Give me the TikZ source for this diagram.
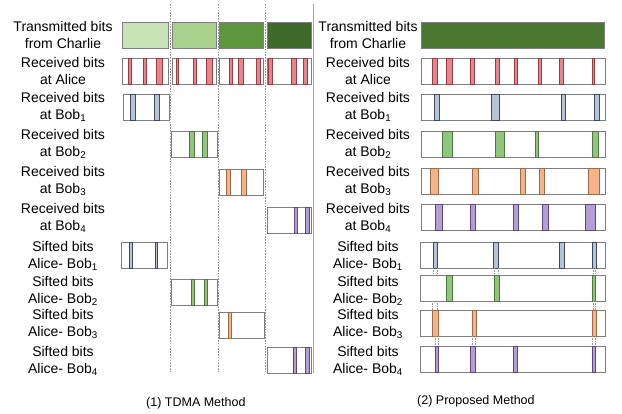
\documentclass[tikz,border=0pt]{standalone}
\usepackage{fontspec}
\setmainfont{Liberation Sans}

\definecolor{framegray}{HTML}{7F7F7F}
\definecolor{guidegray}{HTML}{9A9A9A}
\definecolor{sepgray}{HTML}{A6A6A6}
\definecolor{txA}{HTML}{C8E3B6}
\definecolor{txB}{HTML}{A9D18E}
\definecolor{txC}{HTML}{5E963E}
\definecolor{txD}{HTML}{3E6A2A}
\definecolor{txFull}{HTML}{4A7830}
\definecolor{bitred}{HTML}{E8848C}
\definecolor{bitredD}{HTML}{9A3C44}
\definecolor{bitblue}{HTML}{B8C3D8}
\definecolor{bitblueD}{HTML}{3E4A62}
\definecolor{bitgreen}{HTML}{93C47D}
\definecolor{bitgreenD}{HTML}{4C7A38}
\definecolor{bitorange}{HTML}{F5B38A}
\definecolor{bitorangeD}{HTML}{A06A44}
\definecolor{bitpurple}{HTML}{B49ED6}
\definecolor{bitpurpleD}{HTML}{5C4880}

% one row of bit slots: style, top y, list of x1/x2
\newcommand{\bitrow}[3]{%
  \foreach \xa/\xb in {#3} {\path[#1] (\xa,#2) rectangle (\xb,#2+26);}}
% pair of dashed links between two sifted rows: x1/x2 list, top y, bottom y
\newcommand{\linkpair}[3]{%
  \foreach \xa/\xb in {#1} {\draw[link] (\xa,#2) -- (\xa,#3); \draw[link] (\xb,#2) -- (\xb,#3);}}

\begin{document}
\begin{tikzpicture}[x=1pt,y=-1pt,
  lbl/.style={align=center,inner sep=0pt,font=\fontsize{14}{16.5}\selectfont},
  captxt/.style={inner sep=0pt,anchor=west,font=\fontsize{12.5}{15}\selectfont},
  frame/.style={draw=framegray,line width=0.9pt,fill=white},
  txbox/.style={draw=framegray,line width=0.9pt},
  redbit/.style={fill=bitred,draw=bitredD,line width=0.6pt},
  bluebit/.style={fill=bitblue,draw=bitblueD,line width=0.6pt},
  greenbit/.style={fill=bitgreen,draw=bitgreenD,line width=0.6pt},
  orangebit/.style={fill=bitorange,draw=bitorangeD,line width=0.6pt},
  purplebit/.style={fill=bitpurple,draw=bitpurpleD,line width=0.6pt},
  slotline/.style={draw=guidegray,line width=0.8pt,dash pattern=on 1.6pt off 1.2pt},
  link/.style={draw=guidegray,line width=0.5pt,dash pattern=on 1.5pt off 1pt},
]
\useasboundingbox (0,0) rectangle (622,414);

% ---------- time-slot guides and panel separator ----------
\foreach \gx in {170,218,265} \draw[slotline] (\gx,4) -- (\gx,373);
\draw[sepgray,line width=1pt] (313.5,4) -- (313.5,373);

% ---------- row labels ----------
\foreach \side/\cx in {l/63,r/368} {
  \node[lbl] (\side T)  at (\cx,35)  {Transmitted bits\\from Charlie};
  \node[lbl] (\side A)  at (\cx,71)  {Received bits\\at Alice};
  \node[lbl] (\side B1) at (\cx,107) {Received bits\\at Bob\textsubscript{1}};
  \node[lbl] (\side B2) at (\cx,144) {Received bits\\at Bob\textsubscript{2}};
  \node[lbl] (\side B3) at (\cx,181) {Received bits\\at Bob\textsubscript{3}};
  \node[lbl] (\side B4) at (\cx,218) {Received bits\\at Bob\textsubscript{4}};
  \node[lbl] (\side S1) at (\cx,256) {Sifted bits\\Alice- Bob\textsubscript{1}};
  \node[lbl] (\side S2) at (\cx,291) {Sifted bits\\Alice- Bob\textsubscript{2}};
  \node[lbl] (\side S3) at (\cx,324) {Sifted bits\\Alice- Bob\textsubscript{3}};
  \node[lbl] (\side S4) at (\cx,361) {Sifted bits\\Alice- Bob\textsubscript{4}};
}

% ---------- (1) TDMA method ----------
\path[txbox,fill=txA] (122,22) rectangle (168,48);
\path[txbox,fill=txB] (172,22) rectangle (216,48);
\path[txbox,fill=txC] (219,22) rectangle (263,48);
\path[txbox,fill=txD] (267,22) rectangle (311,48);

\foreach \xa/\xb in {122/168,172/216,219/263,267/311}
  \path[frame] (\xa,58) rectangle (\xb,84);
\bitrow{redbit}{58}{128/131,143/146,156/162,176/178,193/196,206/212,229/232,238/243,256/260,268/272,291/296,303/307}

\path[frame] (123,94) rectangle (169,120);
\bitrow{bluebit}{94}{130/135,154/159}
\path[frame] (171,131) rectangle (217,157);
\bitrow{greenbit}{131}{189/194,202/207}
\path[frame] (219,169) rectangle (263,195);
\bitrow{orangebit}{169}{226/230,241/246}
\path[frame] (267,207) rectangle (311,233);
\bitrow{purplebit}{207}{294/297,305/309}

\path[frame] (121,242) rectangle (167,268);
\bitrow{bluebit}{242}{129/132,155/157.5}
\path[frame] (171,279) rectangle (217,305);
\bitrow{greenbit}{279}{191/194,204/207}
\path[frame] (219,312) rectangle (264,338);
\bitrow{orangebit}{312}{228/231}
\path[frame] (267,347) rectangle (311,373);
\bitrow{purplebit}{347}{293/296,305/309}

% ---------- (2) proposed method ----------
\path[txbox,fill=txFull] (421,22) rectangle (604,48);

\path[frame] (421,58) rectangle (605,84);
\bitrow{redbit}{58}{432/437,446/452,470/474,495/499,514/517,538/541,559/563,592/594.5}
\path[frame] (421,94) rectangle (605,120);
\bitrow{bluebit}{94}{434/439,491/499,561/565,594/599}
\path[frame] (421,131) rectangle (605,157);
\bitrow{greenbit}{131}{442/452,495/504,535/538,592/598}
\path[frame] (421,168) rectangle (605,194);
\bitrow{orangebit}{168}{430/438,472/478,520/525,539/544,588/599}
\path[frame] (421,204) rectangle (605,230);
\bitrow{purplebit}{204}{435/442,470/475,513/518,542/548,585/595}

\path[frame] (420,242) rectangle (605,268);
\bitrow{bluebit}{242}{433/437,493/498,559/564,592/596}
\path[frame] (420,275) rectangle (605,301);
\bitrow{greenbit}{275}{446/452,494/499,592/595}
\path[frame] (420,310) rectangle (605,336);
\bitrow{orangebit}{310}{432/438,472/476,592/596}
\path[frame] (420,346) rectangle (605,372);
\bitrow{purplebit}{346}{435/438,470/475,513/517,592/595}

% links between matching sifted slots
\linkpair{433/437,494/498,593/595}{268}{275}
\linkpair{432/437,593/595}{301}{310}
\linkpair{435/438,472/475,592/595}{336}{346}

% ---------- captions ----------
\node[captxt] (capL) at (146,403) {(1) TDMA Method};
\node[captxt] (capR) at (417,401) {(2) Proposed Method};
\end{tikzpicture}
\end{document}
